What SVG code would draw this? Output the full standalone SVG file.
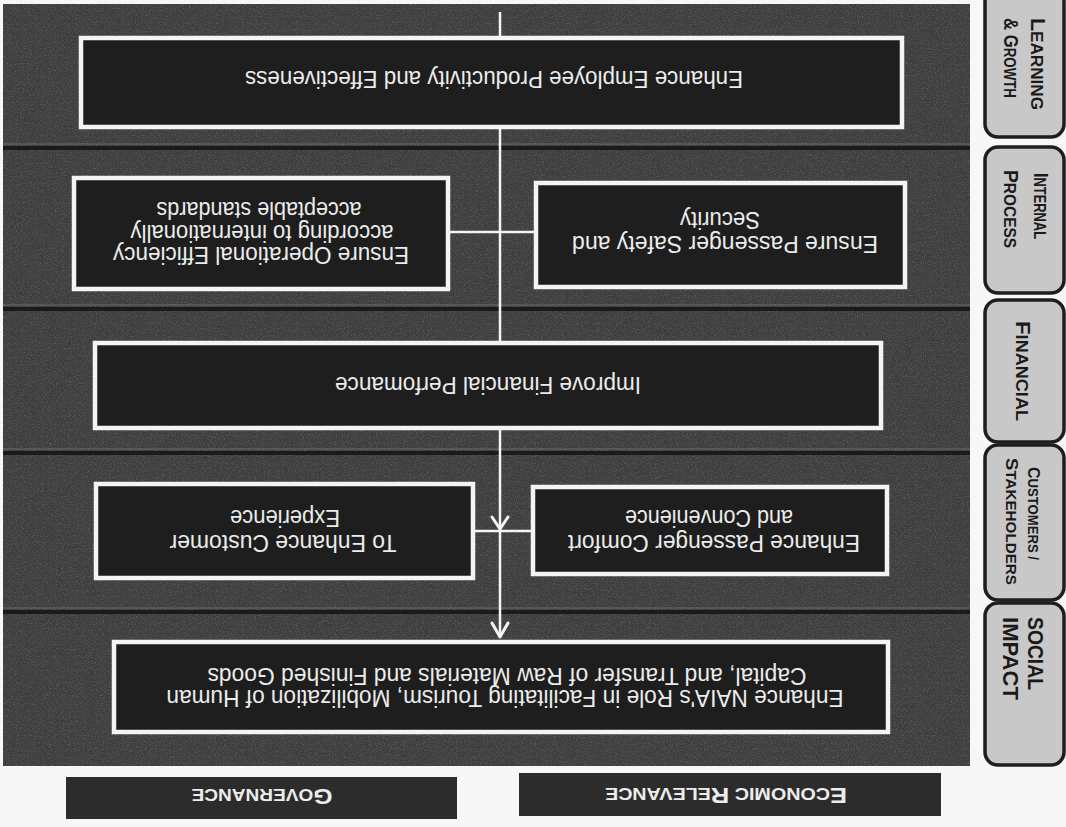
<svg xmlns="http://www.w3.org/2000/svg" width="1066" height="827" viewBox="0 0 1066 827">
  <defs>
    <filter id="grain" x="0" y="0" width="100%" height="100%">
      <feTurbulence type="fractalNoise" baseFrequency="0.85" numOctaves="2" seed="7" result="n"/>
      <feColorMatrix in="n" type="matrix" values="0 0 0 0 1  0 0 0 0 1  0 0 0 0 1  1.6 0 0 0 -0.75"/>
    </filter>
    <style>
      .panel { fill: #3e3e3e; }
      .divider { stroke: #1b1b1b; stroke-width: 4; }
      .divlight { stroke: #6a6a6a; stroke-width: 1; }
      .node { fill: #1e1e1e; stroke: #f4f4f4; stroke-width: 4.5; }
      .nt { font-family: "Liberation Sans", Arial, sans-serif; font-size: 23px; fill: #ececec; text-anchor: middle; }
      .wire { stroke: #f4f4f4; stroke-width: 2.5; fill: none; }
      .head { stroke: #f4f4f4; stroke-width: 3; fill: none; stroke-linecap: round; stroke-linejoin: round; }
      .tab { fill: #c8c8c8; stroke: #1e1e1e; stroke-width: 3.5; }
      .tt { font-family: "Liberation Sans", Arial, sans-serif; font-weight: bold; fill: #1a1a1a; }
      .foot { fill: #2c2c2c; }
      .ft { font-family: "Liberation Sans", Arial, sans-serif; font-weight: bold; fill: #ececec; text-anchor: middle; }
    </style>
  </defs>

  <rect x="0" y="0" width="1066" height="827" fill="#f7f7f7"/>

  <g id="background">
    <rect class="panel" x="3" y="4" width="967" height="762"/>
    <rect x="3" y="4" width="967" height="762" filter="url(#grain)" opacity="0.28"/>
    <line class="divlight" x1="3" y1="144" x2="970" y2="144"/>
    <line class="divider" x1="3" y1="148" x2="970" y2="148"/>
    <line class="divlight" x1="3" y1="305" x2="970" y2="305"/>
    <line class="divider" x1="3" y1="309" x2="970" y2="309"/>
    <line class="divlight" x1="3" y1="449" x2="970" y2="449"/>
    <line class="divider" x1="3" y1="453" x2="970" y2="453"/>
    <line class="divlight" x1="3" y1="608" x2="970" y2="608"/>
    <line class="divider" x1="3" y1="612" x2="970" y2="612"/>
  </g>

  <g id="connectors">
    <line class="wire" x1="500" y1="12" x2="500" y2="38"/>
    <line class="wire" x1="500" y1="127" x2="500" y2="343"/>
    <line class="wire" x1="448" y1="232" x2="536" y2="232"/>
    <line class="wire" x1="500" y1="428" x2="500" y2="637"/>
    <line class="wire" x1="473" y1="531" x2="533" y2="531"/>
    <polyline class="head" points="492,517 500,529 508,517"/>
    <polyline class="head" points="492,623 500,637 508,623"/>
  </g>

  <g id="node-employee">
    <rect class="node" x="81" y="38" width="821" height="89"/>
    <text class="nt" x="494" y="71" textLength="498" lengthAdjust="spacingAndGlyphs" transform="rotate(180 494 71)">Enhance Employee Productivity and Effectiveness</text>
  </g>

  <g id="node-safety">
    <rect class="node" x="536" y="183" width="369" height="104"/>
    <text class="nt" x="725" y="236" textLength="306" lengthAdjust="spacingAndGlyphs" transform="rotate(180 725 236)">Ensure Passenger Safety and</text>
    <text class="nt" x="720" y="212" textLength="80" lengthAdjust="spacingAndGlyphs" transform="rotate(180 720 212)">Security</text>
  </g>

  <g id="node-efficiency">
    <rect class="node" x="74" y="178" width="374" height="111"/>
    <text class="nt" x="261" y="247" textLength="296" lengthAdjust="spacingAndGlyphs" transform="rotate(180 261 247)">Ensure Operational Efficiency</text>
    <text class="nt" x="262" y="225" textLength="263" lengthAdjust="spacingAndGlyphs" transform="rotate(180 262 225)">according to internationally</text>
    <text class="nt" x="259" y="202" textLength="205" lengthAdjust="spacingAndGlyphs" transform="rotate(180 259 202)">acceptable standards</text>
  </g>

  <g id="node-financial">
    <rect class="node" x="95" y="343" width="786" height="85"/>
    <text class="nt" x="488" y="377" textLength="306" lengthAdjust="spacingAndGlyphs" transform="rotate(180 488 377)">Improve Financial Perfomance</text>
  </g>

  <g id="node-comfort">
    <rect class="node" x="533" y="487" width="354" height="87"/>
    <text class="nt" x="714" y="535" textLength="292" lengthAdjust="spacingAndGlyphs" transform="rotate(180 714 535)">Enhance Passenger Comfort</text>
    <text class="nt" x="709" y="510" textLength="168" lengthAdjust="spacingAndGlyphs" transform="rotate(180 709 510)">and Convenience</text>
  </g>

  <g id="node-experience">
    <rect class="node" x="96" y="484" width="377" height="94"/>
    <text class="nt" x="283" y="535" textLength="227" lengthAdjust="spacingAndGlyphs" transform="rotate(180 283 535)">To Enhance Customer</text>
    <text class="nt" x="285" y="510" textLength="110" lengthAdjust="spacingAndGlyphs" transform="rotate(180 285 510)">Experience</text>
  </g>

  <g id="node-social">
    <rect class="node" x="114" y="642" width="774" height="90"/>
    <text class="nt" x="505" y="690" textLength="677" lengthAdjust="spacingAndGlyphs" transform="rotate(180 505 690)">Enhance NAIA's Role in Facilitating Tourism, Mobilization of Human</text>
    <text class="nt" x="507" y="668" textLength="599" lengthAdjust="spacingAndGlyphs" transform="rotate(180 507 668)">Capital, and Transfer of Raw Materials and Finished Goods</text>
  </g>

  <g id="tab-learning">
    <rect class="tab" x="985" y="-12" width="79" height="149" rx="13"/>
    <text class="tt" x="18" y="-1031" textLength="92" lengthAdjust="spacingAndGlyphs" transform="rotate(90)"><tspan font-size="20">L</tspan><tspan font-size="16">EARNING</tspan></text>
    <text class="tt" x="18" y="-1004" textLength="80" lengthAdjust="spacingAndGlyphs" transform="rotate(90)"><tspan font-size="20">&amp; G</tspan><tspan font-size="16">ROWTH</tspan></text>
  </g>

  <g id="tab-internal">
    <rect class="tab" x="985" y="147" width="79" height="146" rx="13"/>
    <text class="tt" x="173" y="-1034" textLength="66" lengthAdjust="spacingAndGlyphs" transform="rotate(90)"><tspan font-size="20">I</tspan><tspan font-size="16">NTERNAL</tspan></text>
    <text class="tt" x="170" y="-1004" textLength="78" lengthAdjust="spacingAndGlyphs" transform="rotate(90)"><tspan font-size="20">P</tspan><tspan font-size="16">ROCESS</tspan></text>
  </g>

  <g id="tab-financial">
    <rect class="tab" x="985" y="300" width="79" height="142" rx="13"/>
    <text class="tt" x="321" y="-1016" textLength="100" lengthAdjust="spacingAndGlyphs" transform="rotate(90)"><tspan font-size="21">F</tspan><tspan font-size="17">INANCIAL</tspan></text>
  </g>

  <g id="tab-customers">
    <rect class="tab" x="985" y="445" width="79" height="155" rx="13"/>
    <text class="tt" x="467" y="-1028" textLength="93" lengthAdjust="spacingAndGlyphs" transform="rotate(90)"><tspan font-size="17">C</tspan><tspan font-size="14">USTOMERS /</tspan></text>
    <text class="tt" x="458" y="-1006" textLength="127" lengthAdjust="spacingAndGlyphs" transform="rotate(90)"><tspan font-size="17">S</tspan><tspan font-size="14">TAKEHOLDERS</tspan></text>
  </g>

  <g id="tab-social">
    <rect class="tab" x="985" y="603" width="79" height="162" rx="13"/>
    <text class="tt" x="617" y="-1028" font-size="22" textLength="73" lengthAdjust="spacingAndGlyphs" transform="rotate(90)">SOCIAL</text>
    <text class="tt" x="617" y="-1003" font-size="22" textLength="83" lengthAdjust="spacingAndGlyphs" transform="rotate(90)">IMPACT</text>
  </g>

  <g id="label-governance">
    <rect class="foot" x="66" y="777" width="391" height="42"/>
    <text class="ft" x="262" y="789" textLength="141" lengthAdjust="spacingAndGlyphs" transform="rotate(180 262 789)"><tspan font-size="22">G</tspan><tspan font-size="17">OVERNANCE</tspan></text>
  </g>

  <g id="label-economic">
    <rect class="foot" x="519" y="773" width="422" height="43"/>
    <text class="ft" x="726" y="788" textLength="242" lengthAdjust="spacingAndGlyphs" transform="rotate(180 726 788)"><tspan font-size="22">E</tspan><tspan font-size="17">CONOMIC </tspan><tspan font-size="22">R</tspan><tspan font-size="17">ELEVANCE</tspan></text>
  </g>
</svg>
